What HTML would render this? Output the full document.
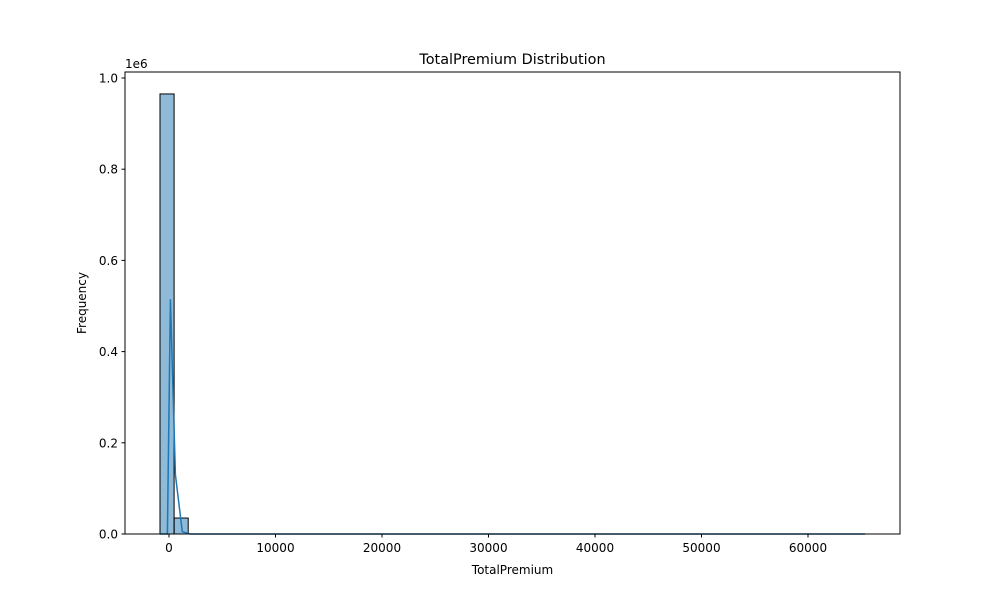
<!DOCTYPE html>
<html><head><meta charset="utf-8"><style>
body{margin:0;background:#fff}
svg text{font-family:"DejaVu Sans","Liberation Sans",sans-serif;fill:#000}
</style></head><body>
<svg id="chart" width="1000" height="600" xmlns="http://www.w3.org/2000/svg">
<rect width="1000" height="600" fill="#fff"/>
<g id="plot"></g>
</svg>
<script>
const binStart = -845;
const binEnd = 65350;
const binCounts = [965000, 35000, 0,0,0,0,0,0,0,0,0,0,0,0,0,0,0,0,0,0,0,0,0,0,0,0,0,0,0,0,0,0,0,0,0,0,0,0,0,0,0,0,0,0,0,0,0,0,0,0];
const kdeX = [-845, -150, 130, 600, 1250, 2000, 10000, 30000, 65350];
const kdeY = [0, 0, 515000, 130000, 5000, 0, 0, 0, 0];
const xTicks = [0, 10000, 20000, 30000, 40000, 50000, 60000];
const yTicks = [0, 0.2e6, 0.4e6, 0.6e6, 0.8e6, 1.0e6];
const yTickLabels = ["0.0","0.2","0.4","0.6","0.8","1.0"];

const L=125,R=900,T=72,B=534;
const sx=v=>169+(v/60000)*639;
const sy=v=>B-(v/1e6)*456;
const ns="http://www.w3.org/2000/svg";
const g=document.getElementById('plot');
function mk(t,a){const e=document.createElementNS(ns,t);for(const k in a)e.setAttribute(k,a[k]);g.appendChild(e);return e;}

const bw=(binEnd-binStart)/binCounts.length;
binCounts.forEach((c,i)=>{
  const x0=sx(binStart+i*bw),x1=sx(binStart+(i+1)*bw);
  const r=mk('rect',{x:x0,y:sy(c),width:x1-x0,height:B-sy(c),fill:'rgba(31,119,180,0.5)',stroke:'#000','stroke-width':1});
  
  
});
const kp=kdeX.map((x,i)=>sx(x).toFixed(1)+','+sy(kdeY[i]).toFixed(1)).join(' ');
const kl=mk('polyline',{points:kp,fill:'none',stroke:'#1f77b4','stroke-width':1.5});



const fr=mk('rect',{x:L,y:T,width:R-L,height:B-T,fill:'none',stroke:'#000','stroke-width':1});



xTicks.forEach(v=>{
  const x=sx(v);
  const tk=mk('line',{x1:x,x2:x,y1:B,y2:B+3.5,stroke:'#000'});
  
  
  const t=mk('text',{x:x,y:B+18,'text-anchor':'middle','font-size':12});
  t.textContent=v;
  
  
});
yTicks.forEach((v,i)=>{
  const y=sy(v);
  const tk=mk('line',{x1:L-3.5,x2:L,y1:y,y2:y,stroke:'#000'});
  
  
  const t=mk('text',{x:L-7,y:y+4.5,'text-anchor':'end','font-size':12});
  t.textContent=yTickLabels[i];
  
  
});
function txt(s,a,name){const t=mk('text',a);t.textContent=s;return t;}
txt('1e6',{x:125,y:68,'font-size':12},'y-offset-label');
txt('TotalPremium Distribution',{x:512.5,y:64,'text-anchor':'middle','font-size':14.4},'chart-title');
txt('TotalPremium',{x:512.5,y:574,'text-anchor':'middle','font-size':12},'x-axis-title');
txt('Frequency',{x:0,y:0,'text-anchor':'middle','font-size':12,transform:'translate(86,303) rotate(-90)'},'y-axis-title');
</script>
</body></html>
